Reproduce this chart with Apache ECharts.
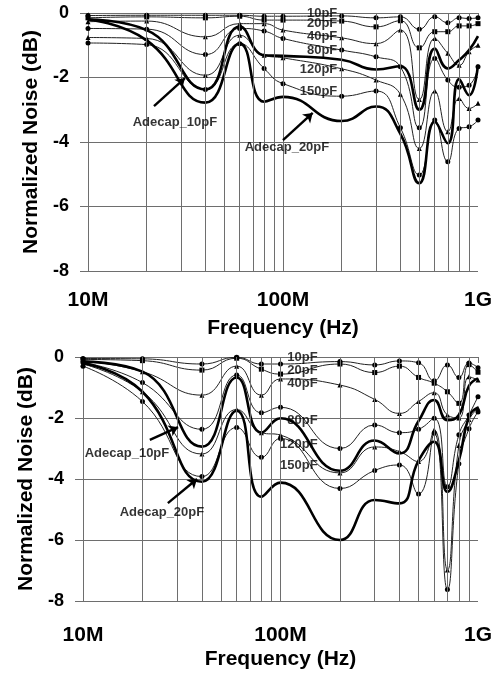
<!DOCTYPE html>
<html>
<head>
<meta charset="utf-8">
<script src="https://cdn.jsdelivr.net/npm/echarts@6/dist/echarts.min.js"></script>
<style>
  html, body { margin: 0; padding: 0; background: #fff; }
  #chart { width: 499px; height: 675px; }
</style>
</head>
<body>
<div id="chart"></div>
<script>
// sample frequencies (MHz) of the curves
const freqMHz = [10, 20, 40, 60, 80, 100, 200, 300, 400, 500, 600, 700, 800, 900, 1000]
// vertical grid lines (MHz)
const gridMHz = [20, 30, 40, 50, 60, 70, 80, 90, 100, 200, 300, 400, 500, 600, 700, 800, 900]
const capNames = ['10pF', '20pF', '40pF', '80pF', '120pF', '150pF']
const capSymbols = ['circle', 'rect', 'triangle', 'circle', 'triangle', 'circle']

// upper plot, normalized noise (dB)
const up10 = [-0.08, -0.07, -0.07, -0.07, -0.1, -0.1, -0.09, -0.15, -0.12, -0.5, -0.12, -0.3, -0.15, -0.17, -0.15]
const up20 = [-0.15, -0.12, -0.15, -0.1, -0.22, -0.22, -0.25, -0.43, -0.24, -1.08, -0.58, -0.58, -0.4, -0.4, -0.33]
const up40 = [-0.27, -0.25, -0.74, -0.33, -0.33, -0.53, -0.77, -0.95, -0.53, -2.68, -0.79, -1.25, -1.62, -1.2, -1.0]
const up80 = [-0.48, -0.5, -1.29, -0.48, -0.56, -0.79, -1.15, -1.36, -1.67, -3.56, -1.41, -2.08, -2.3, -2.24, -1.67]
const up120 = [-0.76, -0.79, -1.93, -0.69, -1.31, -1.39, -1.73, -2.08, -2.52, -4.2, -2.42, -3.68, -2.65, -2.96, -2.8]
const up150 = [-0.93, -0.98, -2.37, -0.95, -1.72, -2.19, -2.58, -2.42, -3.56, -5.02, -3.32, -4.61, -3.58, -3.53, -3.32]
const upAdecap10 = [-0.2, -0.53, -2.37, -0.42, -1.31, -1.33, -1.45, -1.75, -1.65, -3.0, -1.1, -1.72, -1.46, -1.15, -0.72]
const upAdecap20 = [-0.2, -0.85, -2.78, -0.95, -2.75, -2.6, -3.35, -2.9, -3.75, -5.28, -3.37, -4.04, -2.05, -2.55, -1.6]

// lower plot
const lo10 = [-0.05, -0.06, -0.23, -0.01, -0.23, -0.23, -0.15, -0.26, -0.13, -0.19, -0.78, -0.26, -0.67, -0.2, -0.35]
const lo20 = [-0.08, -0.12, -0.43, -0.04, -0.4, -0.56, -0.23, -0.51, -0.3, -0.67, -0.86, -1.14, -1.52, -0.25, -0.5]
const lo40 = [-0.12, -0.48, -1.25, -0.3, -1.25, -0.72, -0.92, -1.39, -1.85, -1.46, -1.17, -1.9, -2.0, -0.65, -0.75]
const lo80 = [-0.18, -0.84, -2.37, -0.59, -1.83, -1.65, -3.0, -2.23, -2.48, -2.37, -2.01, -4.25, -2.55, -1.9, -1.3]
const lo120 = [-0.23, -1.14, -3.18, -1.72, -2.48, -2.56, -3.8, -2.95, -3.1, -3.43, -2.39, -6.98, -2.9, -2.05, -1.68]
const lo150 = [-0.3, -1.46, -3.92, -2.31, -3.29, -2.67, -4.31, -3.72, -3.54, -4.49, -2.5, -7.62, -3.5, -2.35, -1.8]
const loAdecap10 = [-0.15, -0.48, -2.94, -0.67, -2.48, -2.01, -3.73, -2.74, -3.16, -2.1, -1.41, -2.07, -1.9, -0.95, -0.7]
const loAdecap20 = [-0.2, -1.14, -4.09, -1.76, -4.58, -4.12, -6.0, -4.69, -4.8, -3.4, -2.78, -4.42, -3.4, -1.95, -1.65]

const FONT = '"Liberation Sans", Arial, sans-serif'
const GRAY = '#6e6e6e'
const hz = mhz => mhz * 1e6
const pairs = ys => freqMHz.map((f, i) => [hz(f), ys[i]])

const chart = echarts.init(document.getElementById('chart'))

// thin capacitor curves with markers
function capSeries (idx, curves) {
  return curves.map((ys, k) => ({
    type: 'line',
    name: capNames[k],
    xAxisIndex: idx,
    yAxisIndex: idx,
    data: pairs(ys),
    smooth: 0.5,
    symbol: capSymbols[k],
    symbolSize: 5,
    lineStyle: { color: '#222', width: 1 },
    itemStyle: { color: '#000' },
    z: 3
  }))
}

// thick Adecap curve, arrow pointing at it
function adecapSeries (idx, ys, arrowFrom, arrowTo) {
  return {
    type: 'line',
    xAxisIndex: idx,
    yAxisIndex: idx,
    data: pairs(ys),
    smooth: 0.5,
    showSymbol: false,
    lineStyle: { color: '#000', width: 2.6 },
    z: 4,
    markLine: {
      silent: true,
      symbol: ['none', 'arrow'],
      symbolSize: 9,
      label: { show: false },
      lineStyle: { color: '#000', width: 2.4, type: 'solid' },
      data: [[{ coord: arrowFrom }, { coord: arrowTo }]]
    }
  }
}

function gridSeries (idx) {
  return {
    type: 'line',
    xAxisIndex: idx,
    yAxisIndex: idx,
    data: [],
    z: 1,
    markLine: {
      silent: true,
      symbol: 'none',
      label: { show: false },
      lineStyle: { color: GRAY, width: 1, type: 'solid' },
      data: gridMHz.map(f => ({ xAxis: hz(f) }))
    }
  }
}

// curve names and Adecap names as text
function textSeries (idx, items) {
  return {
    type: 'scatter',
    xAxisIndex: idx,
    yAxisIndex: idx,
    silent: true,
    symbolSize: 1,
    itemStyle: { color: 'rgba(0,0,0,0)' },
    z: 6,
    label: {
      show: true,
      position: 'left',
      distance: 0,
      formatter: p => p.value[2],
      fontFamily: FONT,
      fontWeight: 'bold',
      fontSize: 13,
      color: '#000'
    },
    data: items
  }
}

function xAxisOf (idx, labelMargin, nameGap) {
  return {
    type: 'log',
    logBase: 10,
    gridIndex: idx,
    min: 1e7,
    max: 1e9,
    name: 'Frequency (Hz)',
    nameLocation: 'middle',
    nameGap: nameGap,
    nameTextStyle: { fontFamily: FONT, fontWeight: 'bold', fontSize: 21, color: '#000' },
    axisLine: { show: true, lineStyle: { color: GRAY } },
    axisTick: { show: true, length: 6, lineStyle: { color: GRAY } },
    splitLine: { show: false },
    axisLabel: {
      margin: labelMargin,
      fontFamily: FONT,
      fontWeight: 'bold',
      fontSize: 21,
      color: '#000',
      formatter: v => v >= 1e9 ? (v / 1e9) + 'G' : (v / 1e6) + 'M'
    }
  }
}

function yAxisOf (idx, nameGap) {
  return {
    type: 'value',
    gridIndex: idx,
    min: -8,
    max: 0,
    interval: 2,
    name: 'Normalized Noise (dB)',
    nameLocation: 'middle',
    nameGap: nameGap,
    nameTextStyle: { fontFamily: FONT, fontWeight: 'bold', fontSize: 21, color: '#000' },
    axisLine: { show: true, lineStyle: { color: GRAY } },
    axisTick: { show: true, length: 8, lineStyle: { color: GRAY } },
    splitLine: { show: true, lineStyle: { color: GRAY, width: 1 } },
    axisLabel: { margin: 19, fontFamily: FONT, fontWeight: 'bold', fontSize: 18, color: '#000' }
  }
}

const upLabels = capNames.map((n, k) => [hz(191), [0.0, -0.32, -0.72, -1.15, -1.74, -2.42][k], n])
const loLabels = capNames.map((n, k) => [hz(155), [0.0, -0.45, -0.86, -2.09, -2.85, -3.54][k], n])

const option = {
  animation: false,
  backgroundColor: '#fff',
  grid: [
    { left: 88, top: 13, width: 390, height: 258 },
    { left: 83, top: 357, width: 395, height: 244 }
  ],
  xAxis: [xAxisOf(0, 19, 47), xAxisOf(1, 24, 48)],
  yAxis: [yAxisOf(0, 46), yAxisOf(1, 41)],
  series: [
    gridSeries(0),
    gridSeries(1),
    ...capSeries(0, [up10, up20, up40, up80, up120, up150]),
    ...capSeries(1, [lo10, lo20, lo40, lo80, lo120, lo150]),
    adecapSeries(0, upAdecap10, [hz(21.8), -2.89], [hz(31.4), -2.02]),
    adecapSeries(0, upAdecap20, [hz(100), -3.94], [hz(142), -3.1]),
    adecapSeries(1, loAdecap10, [hz(21.8), -2.72], [hz(30.3), -2.3]),
    adecapSeries(1, loAdecap20, [hz(26.9), -4.79], [hz(37.8), -4.0]),
    textSeries(0, [
      ...upLabels,
      { value: [hz(27.9), -3.38, 'Adecap_10pF'], label: { position: 'inside' } },
      { value: [hz(104.8), -4.16, 'Adecap_20pF'], label: { position: 'inside' } }
    ]),
    textSeries(1, [
      ...loLabels,
      { value: [hz(16.7), -3.15, 'Adecap_10pF'], label: { position: 'inside' } },
      { value: [hz(25.1), -5.08, 'Adecap_20pF'], label: { position: 'inside' } }
    ])
  ]
}

chart.setOption(option)
</script>
</body>
</html>
